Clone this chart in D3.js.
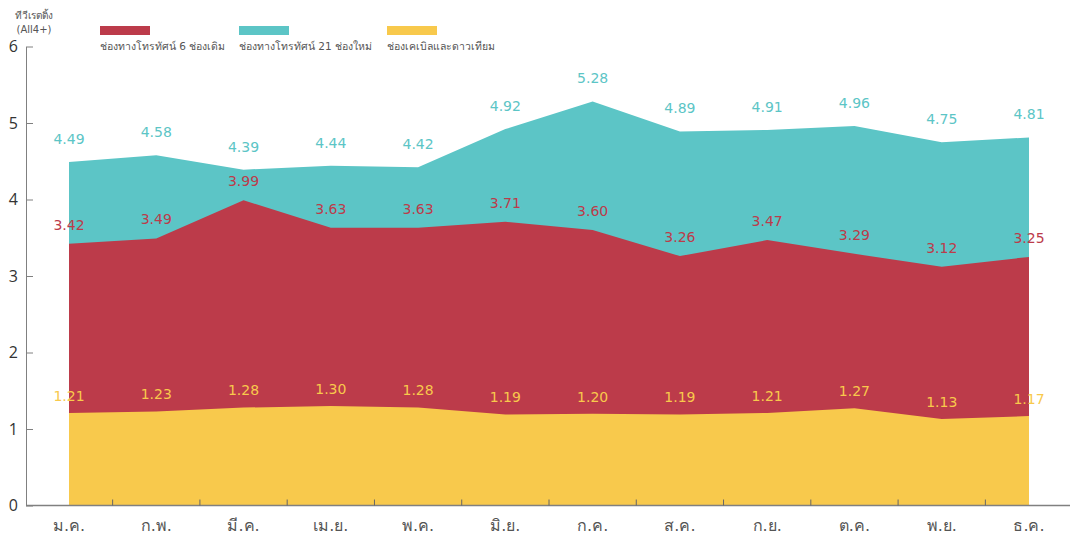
<!DOCTYPE html>
<html>
<head>
<meta charset="utf-8">
<script src="https://cdn.jsdelivr.net/npm/d3@7"></script>
<style>
  body { margin: 0; background: #fff; }
  svg { display: block; }
</style>
</head>
<body>
<script>
// months (Thai abbreviations)
const months = ["ม.ค.", "ก.พ.", "มี.ค.", "เม.ย.", "พ.ค.", "มิ.ย.", "ก.ค.", "ส.ค.", "ก.ย.", "ต.ค.", "พ.ย.", "ธ.ค."];
// ratings, all 4+ (values are the running totals shown in the labels)
const cableSat = [1.21, 1.23, 1.28, 1.30, 1.28, 1.19, 1.20, 1.19, 1.21, 1.27, 1.13, 1.17];
const old6 = [3.42, 3.49, 3.99, 3.63, 3.63, 3.71, 3.60, 3.26, 3.47, 3.29, 3.12, 3.25];
const new21 = [4.49, 4.58, 4.39, 4.44, 4.42, 4.92, 5.28, 4.89, 4.91, 4.96, 4.75, 4.81];
const yTicks = [0, 1, 2, 3, 4, 5, 6];
const seriesNames = ["ช่องทางโทรทัศน์ 6 ช่องเดิม", "ช่องทางโทรทัศน์ 21 ช่องใหม่", "ช่องเคเบิลและดาวเทียม"];

const width = 1070, height = 537;
const axisX = 26, axisY = 505.5;

const svg = d3.select("body").append("svg")
  .attr("width", width)
  .attr("height", height)
  .style("font-family", "Tahoma, 'DejaVu Sans', sans-serif");

const x = d3.scalePoint()
  .domain(months)
  .range([69, 1029]);

const y = d3.scaleLinear()
  .domain([0, 6])
  .range([axisY, 46.5]);

// areas, drawn back to front
const layers = [
  { name: seriesNames[1], values: new21, color: "#5cc5c6", off: 23 },
  { name: seriesNames[0], values: old6, color: "#bc3b4a", off: 19 },
  { name: seriesNames[2], values: cableSat, color: "#f8c94c", off: 17 }
];

const area = d3.area()
  .x((d, i) => x(months[i]))
  .y0(y(0))
  .y1(d => y(d));

layers.forEach(l => {
  svg.append("path")
    .datum(l.values)
    .attr("d", area)
    .attr("fill", l.color);
});

// value labels
layers.forEach(l => {
  svg.append("g")
    .selectAll("text")
    .data(l.values)
    .enter()
    .append("text")
    .attr("x", (d, i) => x(months[i]))
    .attr("y", d => y(d) - l.off)
    .attr("dy", "0.35em")
    .attr("text-anchor", "middle")
    .style("font-size", "14px")
    .style("fill", l.color)
    .text(d => d.toFixed(2));
});

// y axis
const yAxis = svg.append("g")
  .attr("transform", "translate(" + axisX + ",0)")
  .call(d3.axisLeft(y).tickValues(yTicks).tickFormat(d3.format("d"))
    .tickSize(-7).tickPadding(8).tickSizeOuter(0));
yAxis.select(".domain").attr("stroke", "#808080");
yAxis.selectAll(".tick line").attr("stroke", "#808080");
yAxis.selectAll("text").style("font-size", "16px").style("fill", "#333").style("font-family", "'Open Sans', sans-serif");

// x axis
svg.append("line")
  .attr("x1", axisX).attr("x2", width)
  .attr("y1", axisY).attr("y2", axisY)
  .attr("stroke", "#808080")
  .attr("stroke-width", 1.5);

svg.append("g")
  .selectAll("line")
  .data(months.slice(1))
  .enter()
  .append("line")
  .attr("x1", (d, i) => (x(months[i]) + x(d)) / 2)
  .attr("x2", (d, i) => (x(months[i]) + x(d)) / 2)
  .attr("y1", axisY)
  .attr("y2", axisY - 6)
  .attr("stroke", "#666");

svg.append("g")
  .selectAll("text")
  .data(months)
  .enter()
  .append("text")
  .attr("x", d => x(d))
  .attr("y", 531)
  .attr("text-anchor", "middle")
  .style("font-size", "16px")
  .style("fill", "#555")
  .text(d => d);

// y axis title
svg.append("text")
  .attr("x", 34).attr("y", 19)
  .attr("text-anchor", "middle")
  .style("font-size", "10px")
  .style("fill", "#555")
  .text("ทีวีเรตติ้ง");
svg.append("text")
  .attr("x", 34).attr("y", 33)
  .attr("text-anchor", "middle")
  .style("font-size", "10px")
  .style("fill", "#555")
  .text("(All4+)");

// legend
const legendX = [100, 239, 387];
const legend = svg.append("g")
  .selectAll("g")
  .data([layers[1], layers[0], layers[2]])
  .enter()
  .append("g")
  .attr("transform", (d, i) => "translate(" + legendX[i] + ",0)");
legend.append("rect")
  .attr("y", 26).attr("width", 50).attr("height", 9)
  .attr("fill", d => d.color);
legend.append("text")
  .attr("y", 50)
  .style("font-size", "10.5px")
  .style("fill", "#555")
  .text(d => d.name);
</script>
</body>
</html>
